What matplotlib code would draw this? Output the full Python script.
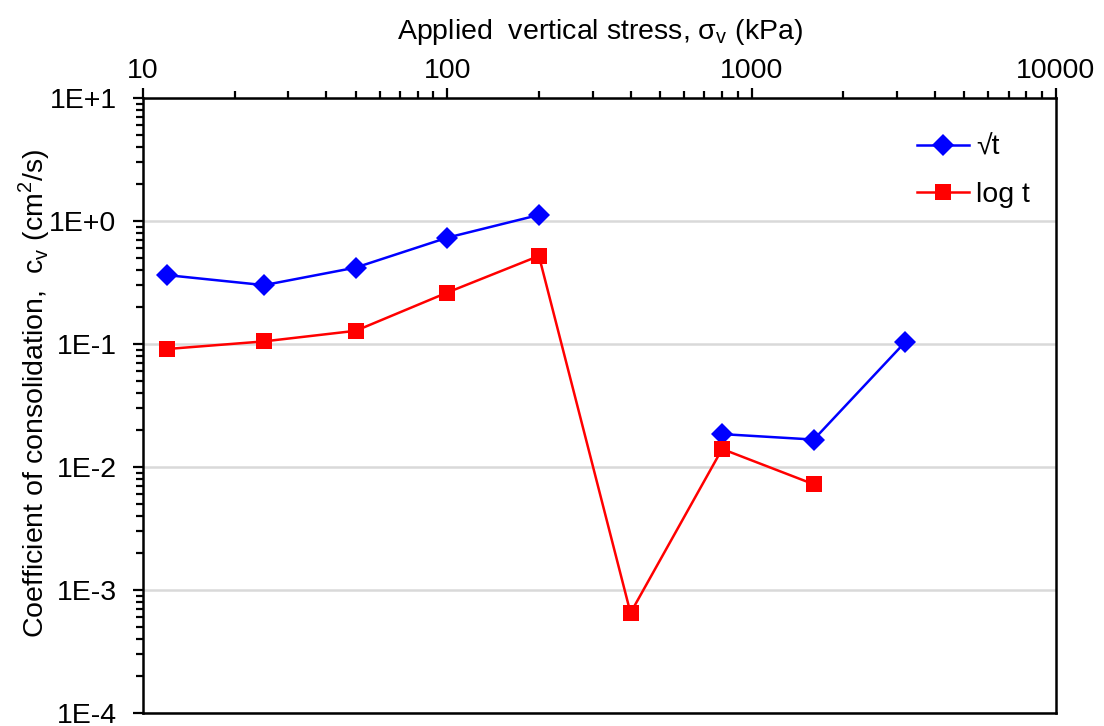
import matplotlib
matplotlib.use("Agg")
import matplotlib.pyplot as plt
import numpy as np
from matplotlib.ticker import LogLocator, NullFormatter

plt.rcParams['font.family'] = ['Liberation Sans', 'DejaVu Sans']
plt.rcParams['mathtext.fontset'] = 'custom'
plt.rcParams['mathtext.rm'] = 'Liberation Sans'

stress = [12, 25, 50, 100, 200, 400, 800, 1600, 3200]
cv_sqrt_t = [0.363, 0.301, 0.418, 0.732, 1.12, np.nan, 0.0185, 0.0167, 0.104]
cv_log_t = [0.091, 0.105, 0.128, 0.262, 0.52, 0.00065, 0.0140, 0.00723, np.nan]
x_ticks = [10, 100, 1000, 10000]
y_ticks = [1e-4, 1e-3, 1e-2, 1e-1, 1e0, 1e1]
y_tick_labels = ['1E-4', '1E-3', '1E-2', '1E-1', '1E+0', '1E+1']

FS = 20.5

fig = plt.figure(figsize=(11.04, 7.26), dpi=100)
ax = fig.add_axes([0.1295, 0.018, 0.827, 0.847])

x = np.array(stress, dtype=float)
ys = np.array(cv_sqrt_t, dtype=float)
yl = np.array(cv_log_t, dtype=float)
ax.plot(x, ys, color='#0000FF', lw=1.8, marker='D', ms=11, mew=0, label='√t', zorder=3)
m = ~np.isnan(yl)
ax.plot(x[m], yl[m], color='#FF0000', lw=1.8, marker='s', ms=11.5, mew=0, label='log t', zorder=3)

ax.set_xscale('log')
ax.set_yscale('log')
ax.set_xlim(10, 10000)
ax.set_ylim(1e-4, 10)

ax.xaxis.tick_top()
ax.xaxis.set_label_position('top')
ax.set_xticks(x_ticks)
ax.set_xticklabels([str(v) for v in x_ticks])
ax.xaxis.set_minor_locator(LogLocator(base=10, subs=np.arange(2, 10)))
ax.xaxis.set_minor_formatter(NullFormatter())
ax.set_yticks(y_ticks)
ax.set_yticklabels(y_tick_labels)
ax.yaxis.set_minor_locator(LogLocator(base=10, subs=np.arange(2, 10)))
ax.yaxis.set_minor_formatter(NullFormatter())

ax.tick_params(axis='both', which='major', labelsize=FS, length=7, width=1.6, direction='out', color='black')
ax.tick_params(axis='both', which='minor', length=5, width=1.6, direction='out')
ax.tick_params(axis='x', which='major', pad=3)
ax.tick_params(axis='y', which='major', pad=12)

for s in ax.spines.values():
    s.set_linewidth(1.8)
    s.set_color('black')

ax.grid(axis='y', which='major', color='#D9D9D9', lw=1.8)
ax.set_axisbelow(True)

ax.set_xlabel('Applied  vertical stress, σ$_\\mathregular{v}$ (kPa)', fontsize=FS, labelpad=14)
ax.set_ylabel('Coefficient of consolidation,  c$_\\mathregular{v}$ (cm$^\\mathregular{2}$/s)', fontsize=FS, labelpad=2)
ax.yaxis.set_label_coords(-0.1, 0.52)

leg = ax.legend(loc='upper right', frameon=False, fontsize=FS, handlelength=1.85, handletextpad=0.25,
                labelspacing=0.75, bbox_to_anchor=(1.0, 0.982))

fig.savefig('out.png', dpi=100)
